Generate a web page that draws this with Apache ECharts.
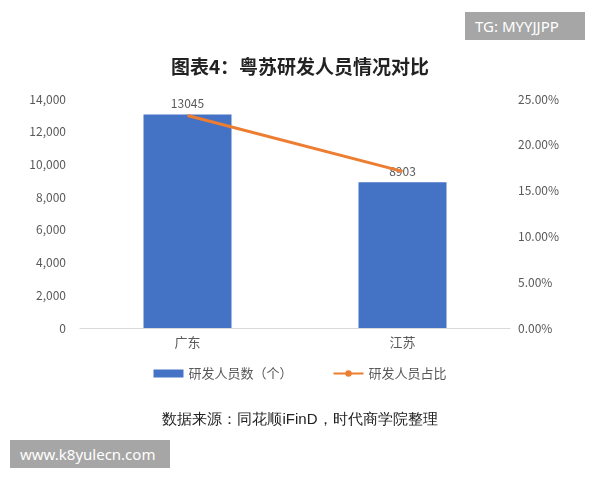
<!DOCTYPE html>
<html>
<head>
<meta charset="utf-8">
<script src="https://cdn.jsdelivr.net/npm/echarts@6/dist/echarts.min.js"></script>
<style>
  body { margin: 0; background: #fff; font-family: "Noto Sans CJK SC", sans-serif; }
  #chart { width: 600px; height: 480px; }
  .wm { position: absolute; background: #a6a6a6; color: #fff; font-size: 15px; font-family: "Noto Sans", sans-serif; padding: 4px 10px; }
</style>
</head>
<body>
<div id="chart"></div>
<div class="wm" style="left:465px; top:12px; width:100px;">TG: MYYJJPP</div>
<div class="wm" style="left:10px; top:440px; width:140px;">www.k8yulecn.com</div>
<script>
// 数据
const categories = ['广东', '江苏']
const staffCount = [13045, 8903]
const staffShare = [23.20, 17.10]

const chart = echarts.init(document.getElementById('chart'))

const option = {
    textStyle: { fontFamily: '"Noto Sans CJK SC", sans-serif' },
    title: {
        text: '图表4：粤苏研发人员情况对比',
        left: 'center',
        top: 52,
        textStyle: { fontSize: 19, fontWeight: 'bold', color: '#222' }
    },
    graphic: [{
        type: 'text',
        left: 'center',
        top: 412,
        style: { text: '数据来源：同花顺iFinD，时代商学院整理', fontSize: 15, fill: '#222', font: '15px "Noto Sans CJK SC"' }
    }],
    legend: {
        top: 362,
        left: 'center',
        itemGap: 40,
        textStyle: { color: '#595959', fontSize: 13 },
        data: [
            { name: '研发人员数（个）', icon: 'rect', itemStyle: { color: '#4472C4' } },
            { name: '研发人员占比' }
        ],
        itemWidth: 30,
        itemHeight: 8
    },
    grid: { left: 80, right: 90, top: 99, bottom: 152 },
    xAxis: {
        type: 'category',
        data: categories,
        axisTick: { show: false },
        axisLine: { lineStyle: { color: '#d9d9d9' } },
        axisLabel: { color: '#595959', fontSize: 13 }
    },
    yAxis: [
        {
            type: 'value', min: 0, max: 14000, interval: 2000,
            splitLine: { show: false },
            axisLabel: { color: '#595959', fontSize: 12, margin: 14 }
        },
        {
            type: 'value', min: 0, max: 25, interval: 5,
            splitLine: { show: false },
            axisLabel: { color: '#595959', fontSize: 12, formatter: v => v.toFixed(2) + '%' }
        }
    ],
    series: [
        {
            name: '研发人员数（个）',
            type: 'bar',
            barWidth: 88,
            data: staffCount,
            itemStyle: { color: '#4472C4' },
            label: { show: true, position: 'top', color: '#595959', fontSize: 12 }
        },
        {
            name: '研发人员占比',
            type: 'line',
            yAxisIndex: 1,
            data: staffShare,
            symbol: 'none',
            lineStyle: { color: '#ED7D31', width: 3 },
            itemStyle: { color: '#ED7D31' },
            label: {
                show: true, position: 'right', color: '#595959', fontSize: 12,
                formatter: p => p.value.toFixed(2) + '%'
            },
            labelLayout: { dx: 40, dy: -12 },
            labelLine: { show: true, lineStyle: { color: '#a6a6a6', width: 1 } }
        }
    ]
}

chart.setOption(option)
</script>
</body>
</html>
